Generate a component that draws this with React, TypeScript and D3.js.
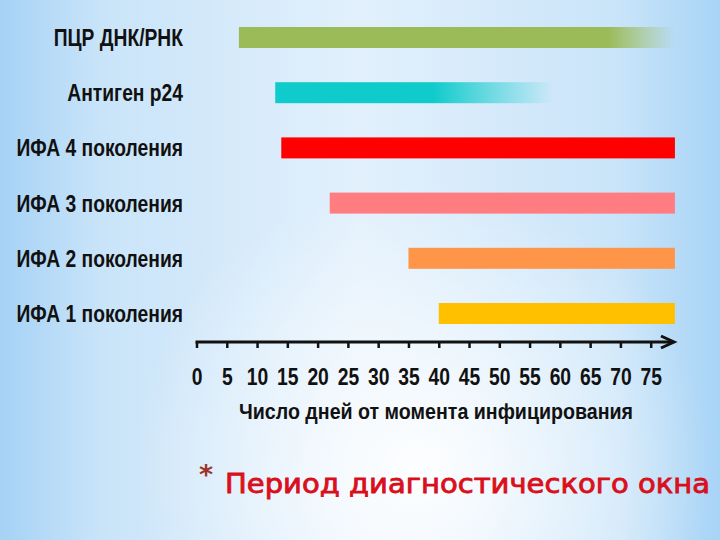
import React, { useEffect, useRef } from 'react';
import * as d3 from 'd3';

// tests, top to bottom
const methods = [
  'ПЦР ДНК/РНК',
  'Антиген р24',
  'ИФА 4 поколения',
  'ИФА 3 поколения',
  'ИФА 2 поколения',
  'ИФА 1 поколения',
];
// day the test becomes positive / last day drawn
const startDays = [7, 13, 14, 22, 35, 40];
const endDays = [79, 59, 79, 79, 79, 79];
// day where the bar starts fading out (null = no fade)
const fadeDays = [68, 39, null, null, null, null];
const barColors = ['#9BBB59', '#0FCBCB', '#FF0000', '#FF7C80', '#FF9548', '#FFC000'];

const tickValues = [0, 5, 10, 15, 20, 25, 30, 35, 40, 45, 50, 55, 60, 65, 70, 75];
const axisTitle = 'Число дней от момента инфицирования';
const footnote = 'Период диагностического окна';

const FONT = '"Liberation Sans", Arial, sans-serif';

const App = () => {
  const svgRef = useRef<SVGSVGElement>(null);

  useEffect(() => {
    const W = 720;
    const H = 540;
    const svg = d3.select(svgRef.current);
    svg.selectAll('*').remove();
    svg.attr('width', W).attr('height', H);

    const defs = svg.append('defs');

    // background: blue edges, white glow near the bottom middle
    const bg = defs.append('linearGradient').attr('id', 'bgH')
      .attr('x1', 0).attr('x2', 1).attr('y1', 0).attr('y2', 0);
    [['0', '#A6D2F5'], ['0.14', '#C9E4F9'], ['0.5', '#E2F0FC'], ['0.86', '#C9E4F9'], ['1', '#A8D4F6']]
      .forEach(([o, c]) => bg.append('stop').attr('offset', o).attr('stop-color', c));
    const glow = defs.append('radialGradient').attr('id', 'glow')
      .attr('gradientUnits', 'userSpaceOnUse')
      .attr('cx', 420).attr('cy', 470).attr('r', 290);
    glow.append('stop').attr('offset', 0).attr('stop-color', '#fff').attr('stop-opacity', 0.95);
    glow.append('stop').attr('offset', 1).attr('stop-color', '#fff').attr('stop-opacity', 0);

    svg.append('rect').attr('width', W).attr('height', H).attr('fill', 'url(#bgH)');
    svg.append('rect').attr('width', W).attr('height', H).attr('fill', 'url(#glow)');

    const x = d3.scaleLinear().domain([0, 75]).range([196.5, 650.7]);
    const y = d3.scalePoint().domain(methods).range([37.5, 313.5]);
    const barH = 21;

    const data = methods.map((m, i) => ({
      m, start: startDays[i], end: endDays[i], fade: fadeDays[i], color: barColors[i], i,
    }));

    // fading bars get their own gradient
    data.filter(d => d.fade != null).forEach(d => {
      const g = defs.append('linearGradient').attr('id', `fade${d.i}`)
        .attr('gradientUnits', 'userSpaceOnUse')
        .attr('x1', x(d.fade as number)).attr('x2', x(d.end)).attr('y1', 0).attr('y2', 0);
      g.append('stop').attr('offset', 0).attr('stop-color', d.color).attr('stop-opacity', 1);
      g.append('stop').attr('offset', 1).attr('stop-color', d.color).attr('stop-opacity', 0);
    });

    svg.append('g')
      .selectAll('rect')
      .data(data)
      .enter()
      .append('rect')
      .attr('x', d => x(d.start))
      .attr('y', d => (y(d.m) as number) - barH / 2)
      .attr('width', d => x(d.end) - x(d.start))
      .attr('height', barH)
      .attr('fill', d => (d.fade != null ? `url(#fade${d.i})` : d.color));

    // narrow bold labels (squeezed Arial-like)
    svg.append('g')
      .selectAll('text')
      .data(data)
      .enter()
      .append('text')
      .attr('transform', d => `translate(183,${(y(d.m) as number) + 8.5}) scale(0.82,1)`)
      .attr('text-anchor', 'end')
      .attr('font-family', FONT)
      .attr('font-weight', 'bold')
      .attr('font-size', 23.5)
      .attr('fill', '#111')
      .text(d => d.m);

    // axis
    const axisY = 342;
    const axis = svg.append('g')
      .attr('transform', `translate(0,${axisY})`)
      .call(d3.axisBottom(x).tickValues(tickValues).tickSize(6).tickPadding(21).tickFormat(d3.format('d')));
    axis.select('.domain').remove();
    axis.selectAll('.tick line').attr('stroke', '#111').attr('stroke-width', 2.5);
    axis.selectAll('.tick text')
      .attr('transform', 'scale(0.84,1)')
      .attr('dy', '0.7em')
      .attr('font-family', FONT)
      .attr('font-weight', 'bold')
      .attr('font-size', 23)
      .attr('fill', '#111');

    axis.append('line')
      .attr('x1', x(0) - 1).attr('x2', 672)
      .attr('y1', 0).attr('y2', 0)
      .attr('stroke', '#111').attr('stroke-width', 3);
    axis.append('path')
      .attr('d', 'M661,-6 L674,0 L661,6')
      .attr('fill', 'none').attr('stroke', '#111').attr('stroke-width', 3)
      .attr('stroke-linejoin', 'miter');

    svg.append('text')
      .attr('x', 239)
      .attr('y', 418.5)
      .attr('font-family', FONT)
      .attr('font-weight', 'bold')
      .attr('font-size', 22)
      .attr('textLength', 394)
      .attr('lengthAdjust', 'spacingAndGlyphs')
      .attr('fill', '#111')
      .text(axisTitle);

    // footnote
    svg.append('text')
      .attr('x', 199)
      .attr('y', 484)
      .attr('font-family', '"DejaVu Sans", Verdana, sans-serif')
      .attr('font-weight', 'bold')
      .attr('font-size', 27)
      .attr('fill', '#9E3428')
      .text('*');
    svg.append('text')
      .attr('x', 225)
      .attr('y', 493)
      .attr('font-family', '"DejaVu Sans", Verdana, sans-serif')
      .attr('font-size', 26)
      .attr('textLength', 485)
      .attr('lengthAdjust', 'spacingAndGlyphs')
      .attr('fill', '#E0101C')
      .attr('stroke', '#D40E1A')
      .attr('stroke-width', 0.8)
      .text(footnote);
  }, []);

  return <svg ref={svgRef} style={{ position: 'absolute', left: 0, top: 0, display: 'block' }}></svg>;
};

export default App;
